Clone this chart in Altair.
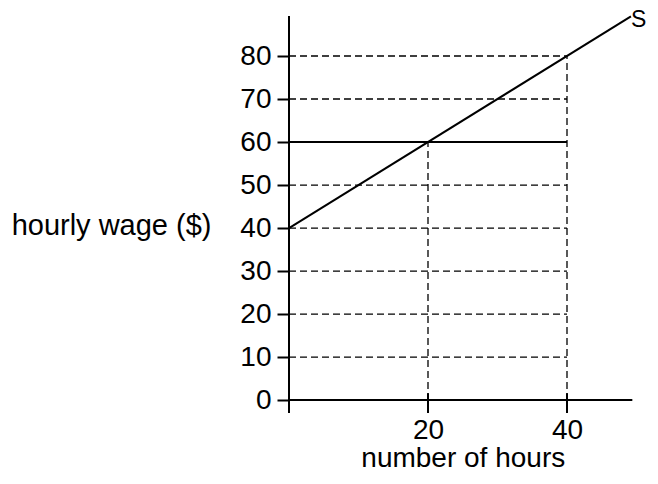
import altair as alt
import pandas as pd

# data
supply_hours = [0, 49.2]
supply_wage = [40, 89.2]
wage_level = 60
wage_hours_end = 40
grid_wages = [10, 20, 30, 40, 50, 70, 80]
grid_hours_end = 40
vert_hours = [20, 40]
vert_tops = [60, 80]
y_ticks = [0, 10, 20, 30, 40, 50, 60, 70, 80]
x_ticks = [20, 40]
x_axis_end = 49.4
y_axis_top = 89.3
y_axis_bottom = -3

FONT = "Liberation Sans"
FS = 28
xs = alt.Scale(domain=[0, 50], nice=False, zero=False)
ys = alt.Scale(domain=[-3, 90], nice=False, zero=False)

supply = pd.DataFrame({"h": supply_hours, "w": supply_wage})
grid = pd.DataFrame({"w": grid_wages, "h0": [0] * len(grid_wages), "h1": [grid_hours_end] * len(grid_wages)})
vert = pd.DataFrame({"h": vert_hours, "w0": [0, 0], "w1": vert_tops})
wline = pd.DataFrame({"w": [wage_level], "h0": [0], "h1": [wage_hours_end]})
xaxis = pd.DataFrame({"w": [0], "h0": [0], "h1": [x_axis_end]})
yaxis = pd.DataFrame({"h": [0], "w0": [y_axis_bottom], "w1": [y_axis_top]})
xt = pd.DataFrame({"h": x_ticks, "w0": [y_axis_bottom] * 2, "w1": [1.6] * 2})
slab = pd.DataFrame({"h": [supply_hours[-1]], "w": [supply_wage[-1]], "t": ["S"]})

base_x = alt.X("h:Q", scale=xs, axis=alt.Axis(values=x_ticks, title="number of hours", domain=False, ticks=False,
              grid=False, labelFont=FONT, labelFontSize=FS, labelColor="black", labelPadding=3,
              titleFont=FONT, titleFontSize=FS, titleFontWeight="normal", titleColor="black", titlePadding=0))
base_y = alt.Y("w:Q", scale=ys, axis=alt.Axis(values=y_ticks, title="hourly wage ($)", domain=False, ticks=True,
              tickSize=12, tickWidth=2, tickColor="black", grid=False, labelFont=FONT, labelFontSize=FS,
              labelColor="black", labelPadding=6, titleFont=FONT, titleFontSize=29, titleFontWeight="normal",
              titleColor="black", titleAngle=0, titleAlign="right", titleBaseline="middle", titleX=-78, titleY=212))

sl = alt.Chart(supply).mark_line(color="black", strokeWidth=2).encode(x=base_x, y=base_y)
gridl = alt.Chart(grid).mark_rule(color="black", strokeWidth=1.3, strokeDash=[7, 4]).encode(
    x=alt.X("h0:Q", scale=xs), x2="h1:Q", y=alt.Y("w:Q", scale=ys))
vertl = alt.Chart(vert).mark_rule(color="black", strokeWidth=1.3, strokeDash=[7, 4]).encode(
    x=alt.X("h:Q", scale=xs), y=alt.Y("w0:Q", scale=ys), y2="w1:Q")
wl = alt.Chart(wline).mark_rule(color="black", strokeWidth=2).encode(
    x=alt.X("h0:Q", scale=xs), x2="h1:Q", y=alt.Y("w:Q", scale=ys))
xa = alt.Chart(xaxis).mark_rule(color="black", strokeWidth=2).encode(
    x=alt.X("h0:Q", scale=xs), x2="h1:Q", y=alt.Y("w:Q", scale=ys))
ya = alt.Chart(yaxis).mark_rule(color="black", strokeWidth=2).encode(
    x=alt.X("h:Q", scale=xs), y=alt.Y("w0:Q", scale=ys), y2="w1:Q")
xtk = alt.Chart(xt).mark_rule(color="black", strokeWidth=2).encode(
    x=alt.X("h:Q", scale=xs), y=alt.Y("w0:Q", scale=ys), y2="w1:Q")
st = alt.Chart(slab).mark_text(font=FONT, fontSize=23, align="left", baseline="middle", dx=0, dy=4,
                               color="black").encode(x=alt.X("h:Q", scale=xs),
                                                     y=alt.Y("w:Q", scale=ys), text="t:N")

chart = alt.layer(sl, gridl, vertl, wl, xa, ya, xtk, st).properties(
    width=347.5, height=400, background="white",
    autosize=alt.AutoSizeParams(type="none"),
    padding={"left": 281, "top": 5, "right": 13.5, "bottom": 59}
).configure_view(strokeWidth=0)

chart.save("out.html", embed_options={"renderer": "svg", "actions": False})
